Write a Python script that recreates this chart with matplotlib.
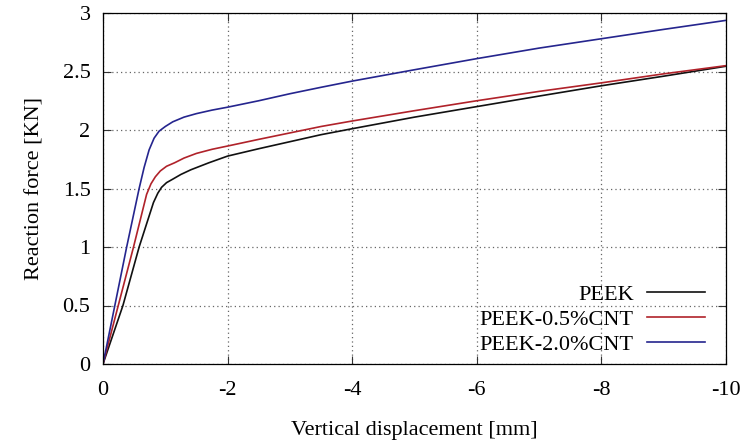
import numpy as np
import matplotlib
matplotlib.use("Agg")
import matplotlib.pyplot as plt

# displacement magnitudes [mm] and reaction force [KN]
peek_x = [0, 0.32, 0.58, 0.81, 0.88, 0.94, 1.02, 1.12, 1.25, 1.41, 1.7, 2, 2.5, 3, 3.5, 4, 5, 6, 7, 8, 9, 10]
peek_y = [0, 0.5, 1.0, 1.38, 1.46, 1.51, 1.55, 1.58, 1.62, 1.66, 1.72, 1.777, 1.84, 1.90, 1.96, 2.011, 2.11, 2.20, 2.29, 2.378, 2.46, 2.545]

cnt05_x = [0, 0.245, 0.49, 0.70, 0.77, 0.84, 0.92, 1.02, 1.15, 1.3, 1.5, 1.75, 2, 2.5, 3, 3.5, 4, 5, 6, 7, 8, 9, 10]
cnt05_y = [0, 0.5, 1.0, 1.45, 1.54, 1.60, 1.65, 1.69, 1.72, 1.76, 1.80, 1.835, 1.863, 1.92, 1.975, 2.03, 2.077, 2.165, 2.25, 2.33, 2.403, 2.48, 2.55]

cnt20_x = [0, 0.19, 0.38, 0.58, 0.66, 0.74, 0.82, 0.9, 1.0, 1.12, 1.3, 1.5, 1.75, 2, 2.5, 3, 3.5, 4, 5, 6, 7, 8, 9, 10]
cnt20_y = [0, 0.5, 1.0, 1.5, 1.68, 1.83, 1.93, 1.99, 2.03, 2.07, 2.11, 2.14, 2.17, 2.195, 2.25, 2.31, 2.365, 2.418, 2.515, 2.61, 2.70, 2.78, 2.86, 2.937]

labels = ["PEEK", "PEEK-0.5%CNT", "PEEK-2.0%CNT"]
colors = ["#111111", "#b0222a", "#25258e"]

xticks = [0, -2, -4, -6, -8, -10]
yticks = [0, 0.5, 1, 1.5, 2, 2.5, 3]
ytick_labels = ["0", "0.5", "1", "1.5", "2", "2.5", "3"]

plt.rcParams["font.family"] = ["Liberation Serif", "DejaVu Serif"]
plt.rcParams["font.size"] = 16
plt.rcParams["axes.unicode_minus"] = False

fig = plt.figure(figsize=(7.44, 4.43), dpi=100)
ax = fig.add_axes([103 / 744, 1 - 364 / 443, 623 / 744, 351 / 443])

series = [(peek_x, peek_y), (cnt05_x, cnt05_y), (cnt20_x, cnt20_y)]
for (xs, ys), lab, c in zip(series, labels, colors):
    ax.plot(-np.array(xs), ys, color=c, lw=1.2, label=lab)

ax.set_xlim(0, -10)
ax.set_ylim(0, 3)
ax.set_xticks(xticks)
ax.set_xticklabels([str(t) for t in xticks])
ax.set_yticks(yticks)
ax.set_yticklabels(ytick_labels)
ax.tick_params(direction="in", length=6, width=0.8, top=True, right=True, color="#333333")
ax.tick_params(axis="y", pad=9)
ax.tick_params(axis="x", pad=12)
ax.grid(True, color="#666666", linestyle=(0, (1, 2.5)), linewidth=0.9)
for s in ax.spines.values():
    s.set_linewidth(0.9)

ax.set_xlabel("Vertical displacement [mm]", labelpad=15)
ax.set_ylabel("Reaction force [KN]", labelpad=13)

leg = ax.legend(loc="lower right", bbox_to_anchor=(0.966, 0.025), frameon=False,
                markerfirst=False, handlelength=2.6, handletextpad=0.6,
                labelspacing=0.21, borderpad=0, borderaxespad=0)

fig.savefig("out.png", dpi=100)
